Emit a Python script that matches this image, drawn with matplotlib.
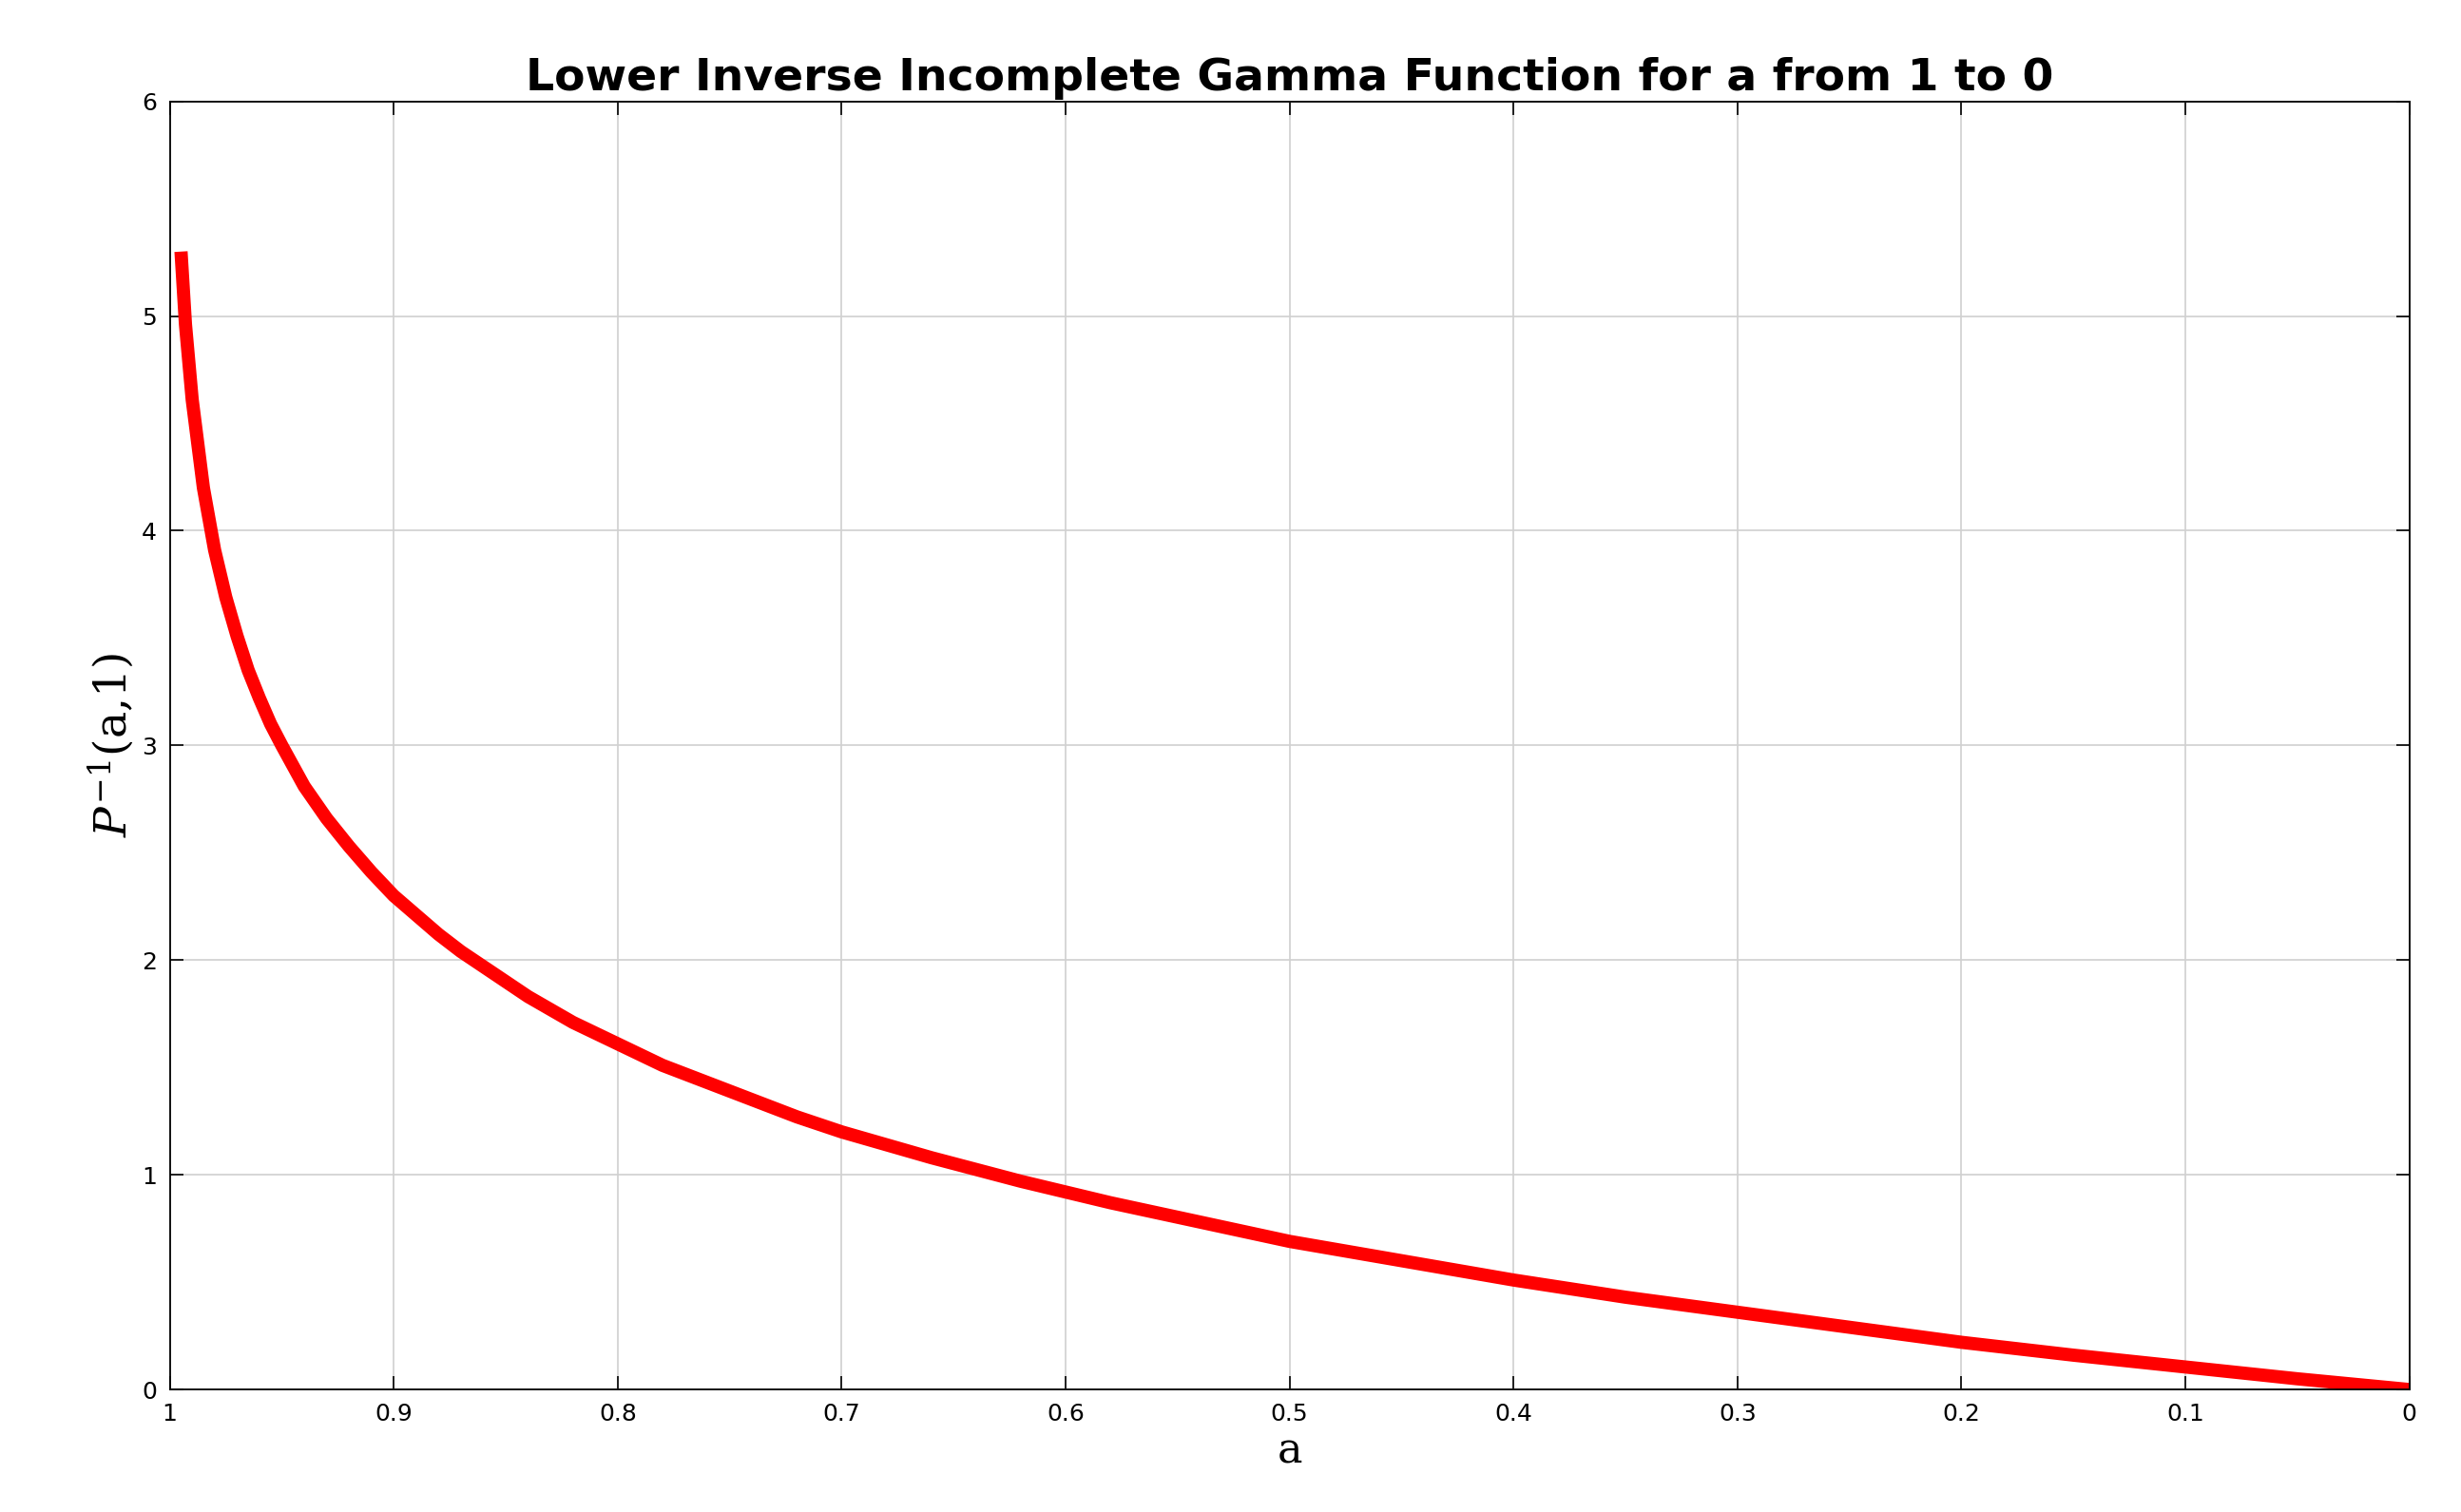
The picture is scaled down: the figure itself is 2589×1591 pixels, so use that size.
import matplotlib
matplotlib.use("Agg")
import matplotlib.pyplot as plt
plt.rcParams['mathtext.fontset'] = 'dejavuserif'

a_vals = [0.995, 0.993, 0.99, 0.985, 0.98, 0.975, 0.97, 0.965, 0.96, 0.955, 0.95, 0.94, 0.93, 0.92, 0.91, 0.9,
          0.89, 0.88, 0.87, 0.86, 0.85, 0.84, 0.82, 0.8, 0.78, 0.76, 0.74, 0.72, 0.7, 0.66, 0.62, 0.58, 0.54, 0.5,
          0.45, 0.4, 0.35, 0.3, 0.25, 0.2, 0.15, 0.1, 0.05, 0.0]
p_vals = [5.30, 4.96, 4.61, 4.20, 3.91, 3.69, 3.51, 3.35, 3.22, 3.10, 3.00, 2.81, 2.66, 2.53, 2.41, 2.30,
          2.21, 2.12, 2.04, 1.97, 1.90, 1.83, 1.71, 1.61, 1.51, 1.43, 1.35, 1.27, 1.20, 1.08, 0.97, 0.87, 0.78, 0.69,
          0.60, 0.51, 0.43, 0.36, 0.29, 0.22, 0.16, 0.105, 0.05, 0.0]
x_ticks = [1, 0.9, 0.8, 0.7, 0.6, 0.5, 0.4, 0.3, 0.2, 0.1, 0]
x_labels = ["1", "0.9", "0.8", "0.7", "0.6", "0.5", "0.4", "0.3", "0.2", "0.1", "0"]
y_ticks = [0, 1, 2, 3, 4, 5, 6]

fig = plt.figure(figsize=(25.89, 15.91), dpi=100)
ax = fig.add_axes([0.069, 0.081, 0.91, 0.852])
ax.plot(a_vals, p_vals, color="#ff0000", linewidth=10, solid_capstyle="butt", solid_joinstyle="round")
ax.set_xlim(1, 0)
ax.set_ylim(0, 6)
ax.set_xticks(x_ticks)
ax.set_xticklabels(x_labels)
ax.set_yticks(y_ticks)
ax.grid(True, color="#d0d0d0", linewidth=1.2)
ax.tick_params(direction="in", top=True, right=True, labelsize=18, length=10, width=1.2, pad=10)
for s in ax.spines.values():
    s.set_linewidth(1.3)
ax.set_title("Lower Inverse Incomplete Gamma Function for a from 1 to 0",
             fontsize=34, fontweight="bold", pad=8)
ax.set_xlabel("a", fontsize=32, family="DejaVu Serif")
ax.set_ylabel(r"$P^{-1}$(a,1)", fontsize=34, family="DejaVu Serif")
fig.savefig("out.png", dpi=100)
